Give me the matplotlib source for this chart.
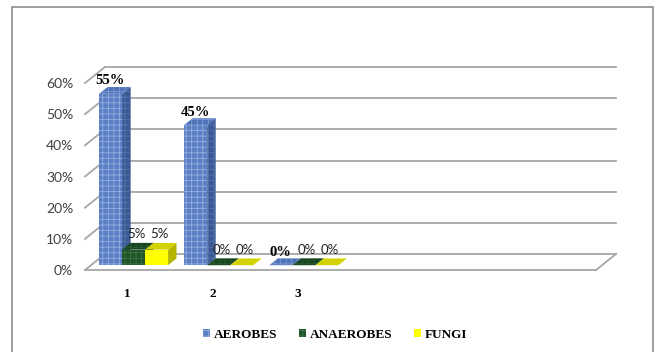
import numpy as np
import matplotlib
matplotlib.use('Agg')
import matplotlib.pyplot as plt
from matplotlib.patches import Polygon, Rectangle, Patch

# category labels (six slots on the floor, only three used)
categories = ['1', '2', '3', '', '', '']
aerobes = [55, 45, 0]
anaerobes = [5, 0, 0]
fungi = [5, 0, 0]
yticks = [0, 10, 20, 30, 40, 50, 60]

plt.rcParams['hatch.linewidth'] = 0.6

fig = plt.figure(figsize=(6.6, 3.52), dpi=100)
# axes = front plane of the 3D box
ax = fig.add_axes([85 / 660, 82 / 352, 511 / 660, 187 / 352])
ax.set_xlim(-0.5, 5.5)
ax.set_ylim(0, 60)
for s in ax.spines.values():
    s.set_visible(False)
ax.set_facecolor('none')

# depth offset of the back wall, in data units
DX = 20 / (511 / 6)
DY = 16 / (187 / 60)


def proj(x, y, d):
    return (x + d * DX, y + d * DY)


grid_c = '#a6a6a6'
x0, x1 = -0.5, 5.5
for y in yticks:
    ax.plot(*zip(proj(x0, y, 1), proj(x1, y, 1)), color=grid_c, lw=1.3, clip_on=False, zorder=1)
    ax.plot(*zip(proj(x0, y, 0), proj(x0, y, 1)), color=grid_c, lw=1.3, clip_on=False, zorder=1)
# floor
ax.plot(*zip(proj(x0, 0, 0), proj(x1, 0, 0)), color=grid_c, lw=1.3, clip_on=False, zorder=1)
ax.plot(*zip(proj(x1, 0, 0), proj(x1, 0, 1)), color=grid_c, lw=1.3, clip_on=False, zorder=1)

# (face colour, hatch colour) for front / top / side
series = [
    ('AEROBES', aerobes, dict(front=('#5b7fc4', '#93afe0'), top=('#4f73b8', '#7d9bd4'),
                              side=('#3a5894', '#5673ab'))),
    ('ANAEROBES', anaerobes, dict(front=('#1f5429', '#3a7442'), top=('#184521', '#2c5e33'),
                                  side=('#113318', '#204a26'))),
    ('FUNGI', fungi, dict(front=('#ffff00', None), top=('#d2d200', None), side=('#b5b500', None))),
]

w = 0.27
d0, d1 = 0.3, 0.72


def face(pts, colors):
    fc, hc = colors
    if hc:
        p = Polygon(pts, closed=True, facecolor=fc, edgecolor=hc, hatch='+++', lw=0, clip_on=False, zorder=3)
    else:
        p = Polygon(pts, closed=True, facecolor=fc, lw=0, clip_on=False, zorder=3)
    ax.add_patch(p)


for k, (name, vals, col) in enumerate(series):
    for i, h in enumerate(vals):
        xl = i - 1.5 * w + k * w
        xr = xl + w
        face([proj(xl, 0, d0), proj(xr, 0, d0), proj(xr, h, d0), proj(xl, h, d0)], col['front'])
        face([proj(xr, 0, d0), proj(xr, 0, d1), proj(xr, h, d1), proj(xr, h, d0)], col['side'])
        face([proj(xl, h, d0), proj(xr, h, d0), proj(xr, h, d1), proj(xl, h, d1)], col['top'])
        lx, ly = proj(xl + w / 2, h, 0.5)
        if k == 0:
            ax.annotate(f'{h}%', (lx, ly), xytext=(-3, 7), textcoords='offset points',
                        ha='center', va='center', family='Liberation Serif', weight='bold',
                        fontsize=10.5, color='black', zorder=5, annotation_clip=False)
        else:
            ax.annotate(f'{h}%', (lx, ly), xytext=(-1, 9), textcoords='offset points',
                        ha='center', va='center', family='Lato', fontsize=9.5,
                        color='#222222', zorder=5, annotation_clip=False)

ax.set_yticks(yticks)
ax.set_yticklabels([f'{v}%' for v in yticks], family='Lato', fontsize=10, color='#404040')
ax.set_xticks(range(len(categories)))
ax.set_xticklabels(categories, family='Liberation Serif', weight='bold', fontsize=9.5)
ax.tick_params(axis='y', length=0, pad=8.5)
ax.tick_params(axis='x', length=0, pad=13)

handles = [Patch(facecolor=c['front'][0], edgecolor=c['front'][1] or c['front'][0],
                 hatch='+++' if c['front'][1] else None, lw=0, label=n) for n, _, c in series]
fig.legend(handles=handles, loc='center', bbox_to_anchor=(0.508, 0.048), ncol=3, frameon=False,
           prop=dict(family='Liberation Serif', weight='bold', size=9.5),
           handlelength=0.55, handleheight=0.55, handletextpad=0.3, columnspacing=1.6)

# chart border
fig.patches.append(Rectangle((12 / 660, -0.05), 641 / 660, 1.05 - 7 / 352, transform=fig.transFigure,
                             fill=False, edgecolor='#8c8c8c', lw=1.2))

fig.savefig('out.png', dpi=100)
